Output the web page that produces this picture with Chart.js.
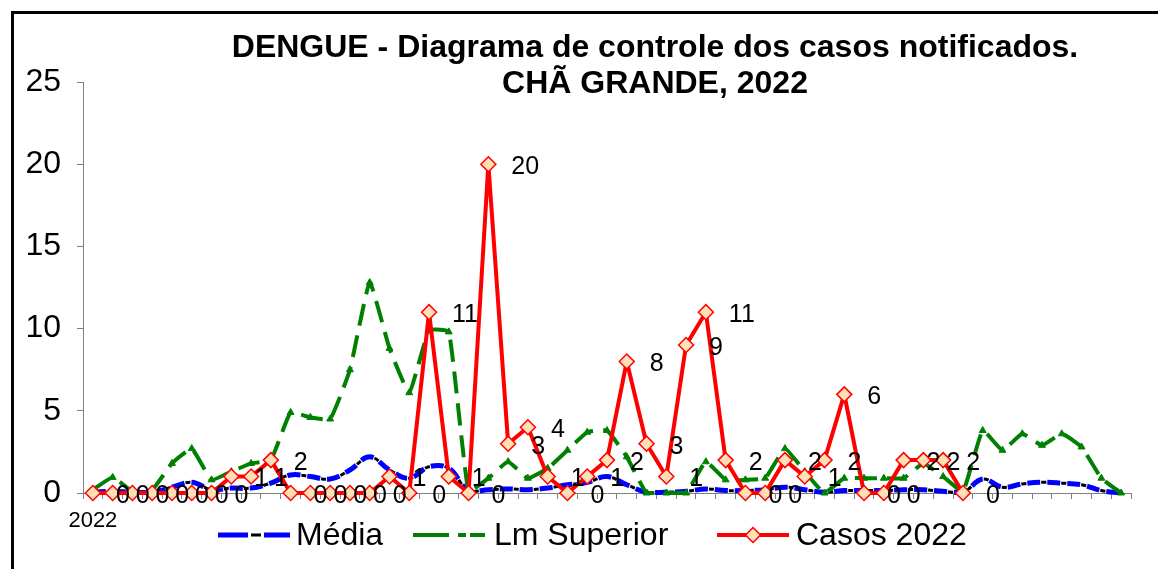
<!DOCTYPE html>
<html>
<head>
<meta charset="utf-8">
<script src="https://cdn.jsdelivr.net/npm/chart.js@4"></script>
<style>
html,body{margin:0;padding:0;background:#fff;}
#wrap{width:1158px;height:569px;position:relative;}
</style>
</head>
<body>
<div id="wrap"><canvas id="c" width="1158" height="569"></canvas></div>
<script>
// ---- DATA ----
const titleLines = ["DENGUE - Diagrama de controle dos casos notificados.", "CHÃ GRANDE, 2022"];
const categories = [1,2,3,4,5,6,7,8,9,10,11,12,13,14,15,16,17,18,19,20,21,22,23,24,25,26,27,28,29,30,31,32,33,34,35,36,37,38,39,40,41,42,43,44,45,46,47,48,49,50,51,52,53];
const xTickLabels = ["2022"];
const yTicks = [0, 5, 10, 15, 20, 25];
const seriesNames = ["Média", "Lm Superior", "Casos 2022"];
const media = [0.05,0.1,0.05,0.05,0.35,0.65,0.2,0.3,0.3,0.6,1.1,1.0,0.85,1.4,2.2,1.4,0.9,1.6,1.5,0.15,0.2,0.25,0.2,0.3,0.5,0.65,1.0,0.5,0.05,0.05,0.1,0.25,0.15,0.15,0.2,0.35,0.2,0.05,0.15,0.15,0.15,0.2,0.2,0.1,0.05,0.85,0.35,0.55,0.65,0.6,0.5,0.15,0];
const lmSuperior = [0.2,0.95,0.1,0.2,1.8,2.7,0.8,1.3,1.8,2.0,4.9,4.6,4.5,7.5,12.8,8.8,6.1,9.9,9.8,0.1,0.9,1.9,0.9,1.5,2.6,3.7,3.8,2.2,0,0,0,1.9,0.8,0.8,0.9,2.7,1.3,0,0.9,0.9,0.9,0.9,1.8,1.0,0.1,3.8,2.6,3.6,2.9,3.6,2.8,0.9,0];
const casos2022 = [0,0,0,0,0,0,0,1,1,2,0,0,0,0,0,1,0,11,1,0,20,3,4,1,0,1,2,8,3,1,9,11,2,0,0,2,1,2,6,0,0,2,2,2,0];

// ---- STYLE ----
const FONT = "Arial, 'Liberation Sans', sans-serif";
const BLUE = '#0000FF', GREEN = '#008000', RED = '#FF0000', MARK_FILL = '#FFDFB5';
const BLUE_DASH = [13, 7], BLACK_DASH = [5, 15], BLACK_OFF = 6;
const GREEN_DASH = [22, 10];

const framePlugin = {
  id: 'frame',
  beforeDraw(chart) {
    const ctx = chart.ctx;
    ctx.save();
    ctx.fillStyle = '#fff';
    ctx.fillRect(0, 0, chart.width, chart.height);
    ctx.fillStyle = '#000';
    ctx.fillRect(11, 11, 3, chart.height);
    ctx.fillRect(11, 11, chart.width, 3);
    ctx.restore();
  }
};

const titlePlugin = {
  id: 'titleText',
  afterDraw(chart) {
    const ctx = chart.ctx;
    ctx.save();
    ctx.font = 'bold 32px ' + FONT;
    ctx.fillStyle = '#000';
    ctx.textAlign = 'center';
    ctx.textBaseline = 'middle';
    ctx.fillText(titleLines[0], 655, 48);
    ctx.fillText(titleLines[1], 655, 84);
    ctx.restore();
  }
};

const labelPlugin = {
  id: 'valueLabels',
  afterDatasetsDraw(chart) {
    const ctx = chart.ctx;
    const meta = chart.getDatasetMeta(0);
    ctx.save();
    ctx.font = '25px ' + FONT;
    ctx.fillStyle = '#000';
    ctx.textAlign = 'left';
    ctx.textBaseline = 'middle';
    meta.data.forEach((pt, i) => {
      ctx.fillText(String(casos2022[i]), pt.x + 23, pt.y + 3);
    });
    ctx.restore();
  }
};

function drawDiamond(ctx, x, y, r) {
  ctx.beginPath();
  ctx.moveTo(x, y - r); ctx.lineTo(x + r, y); ctx.lineTo(x, y + r); ctx.lineTo(x - r, y); ctx.closePath();
  ctx.fillStyle = MARK_FILL; ctx.fill();
  ctx.lineWidth = 1.5; ctx.strokeStyle = RED; ctx.setLineDash([]); ctx.stroke();
}

const legendPlugin = {
  id: 'customLegend',
  afterDraw(chart) {
    const ctx = chart.ctx;
    const y = 535;
    const items = [
      {x0: 218, tx: 296, name: seriesNames[0], kind: 'media'},
      {x0: 413, tx: 494, name: seriesNames[1], kind: 'lm'},
      {x0: 717, tx: 796, name: seriesNames[2], kind: 'casos'}
    ];
    const w = 72;
    ctx.save();
    items.forEach(it => {
      ctx.lineCap = 'butt';
      if (it.kind === 'media') {
        ctx.beginPath(); ctx.moveTo(it.x0, y); ctx.lineTo(it.x0 + w, y);
        ctx.strokeStyle = BLUE; ctx.lineWidth = 5; ctx.setLineDash([30, 16, 26]); ctx.lineDashOffset = 0; ctx.stroke();
        ctx.beginPath(); ctx.moveTo(it.x0 + 33, y); ctx.lineTo(it.x0 + 43, y);
        ctx.strokeStyle = '#000'; ctx.lineWidth = 3; ctx.setLineDash([]); ctx.stroke();
      } else if (it.kind === 'lm') {
        ctx.beginPath(); ctx.moveTo(it.x0, y); ctx.lineTo(it.x0 + w, y);
        ctx.strokeStyle = GREEN; ctx.lineWidth = 4; ctx.setLineDash([36, 9, 8, 4, 20]); ctx.lineDashOffset = 0; ctx.stroke();
      } else {
        ctx.beginPath(); ctx.moveTo(it.x0, y); ctx.lineTo(it.x0 + w, y);
        ctx.strokeStyle = RED; ctx.lineWidth = 4; ctx.setLineDash([]); ctx.stroke();
        drawDiamond(ctx, it.x0 + w / 2, y, 7.5);
      }
      ctx.setLineDash([]);
      ctx.font = '32px ' + FONT;
      ctx.fillStyle = '#000';
      ctx.textAlign = 'left';
      ctx.textBaseline = 'middle';
      ctx.fillText(it.name, it.tx, y + 1);
    });
    ctx.restore();
  }
};

new Chart(document.getElementById('c'), {
  type: 'line',
  data: {
    labels: categories,
    datasets: [
      {
        label: seriesNames[2], data: casos2022, order: 0,
        borderColor: RED, borderWidth: 4, tension: 0, borderJoinStyle: 'round',
        pointStyle: 'rectRot', pointRadius: 7.5, pointBorderWidth: 1.5,
        pointBackgroundColor: MARK_FILL, pointBorderColor: RED, clip: false
      },
      {
        label: seriesNames[1], data: lmSuperior, order: 1,
        borderColor: GREEN, borderWidth: 4, borderDash: GREEN_DASH, tension: 0.12,
        borderJoinStyle: 'round',
        pointStyle: 'triangle', pointRadius: 4, pointBorderWidth: 1,
        pointBackgroundColor: GREEN, pointBorderColor: GREEN, clip: false
      },
      {
        label: seriesNames[0] + ' (b)', data: media, order: 2,
        borderColor: '#000', borderWidth: 3, borderDash: BLACK_DASH, borderDashOffset: BLACK_OFF,
        tension: 0.4, pointRadius: 0, clip: false
      },
      {
        label: seriesNames[0], data: media, order: 3,
        borderColor: BLUE, borderWidth: 5, borderDash: BLUE_DASH, borderDashOffset: 0,
        tension: 0.4, pointRadius: 0, clip: false
      }
    ]
  },
  options: {
    responsive: false,
    animation: false,
    devicePixelRatio: 1,
    layout: {padding: {left: 0, top: 82, right: 27, bottom: 0}},
    plugins: {legend: {display: false}, title: {display: false}, tooltip: {enabled: false}},
    events: [],
    scales: {
      x: {
        type: 'category',
        offset: true,
        grid: {offset: true, drawOnChartArea: false, color: '#808080', tickLength: 6, tickWidth: 1},
        border: {color: '#808080', width: 1},
        ticks: {
          autoSkip: false, maxRotation: 0, minRotation: 0, padding: 9,
          color: '#000', font: {family: FONT, size: 22},
          callback: (v, i) => (i < xTickLabels.length ? xTickLabels[i] : '')
        },
        afterFit: s => { s.height = 76; }
      },
      y: {
        min: 0, max: 25,
        afterBuildTicks: s => { s.ticks = yTicks.map(v => ({value: v})); },
        grid: {drawOnChartArea: false, color: '#808080', tickLength: 6, tickWidth: 1},
        border: {color: '#808080', width: 1},
        ticks: {padding: 16, color: '#000', font: {family: FONT, size: 32}},
        afterFit: s => { s.width = 83; }
      }
    }
  },
  plugins: [framePlugin, titlePlugin, labelPlugin, legendPlugin]
});
</script>
</body>
</html>
